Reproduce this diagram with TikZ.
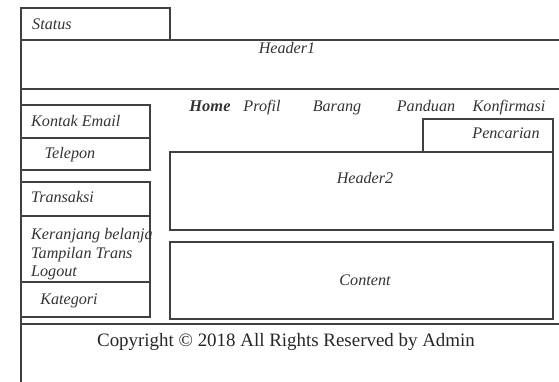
\documentclass[tikz,border=0pt]{standalone}
\usepackage{fontspec}
\setmainfont{Liberation Serif}
\begin{document}
\begin{tikzpicture}[x=1bp,y=-1bp,
  box/.style={draw=black!75,line width=1.4bp,anchor=north west,inner sep=0pt,outer sep=0pt},
  lbl/.style={font=\fontsize{16.2}{18}\selectfont\itshape,text=black!80,inner sep=0pt,text height=11bp,text depth=3.5bp,yshift=-2bp},
  nav/.style={lbl},
  copy/.style={font=\fontsize{19}{22}\selectfont,text=black!85,inner sep=0pt,yshift=-2bp}]
\useasboundingbox (0,0) rectangle (559,381);
% frame
\node[box,minimum width=549bp,minimum height=49bp] (hdr1band) at (21,40) {};
\node[box,minimum width=549bp,minimum height=235bp] (body) at (21,89) {};
\node[box,minimum width=549bp,minimum height=70bp] (foot) at (21,324) {};
\node[box,minimum width=149bp,minimum height=32bp] (status) at (21,8) {};
% sidebar
\node[box,minimum width=129bp,minimum height=33bp] (kontak) at (21,105) {};
\node[box,minimum width=129bp,minimum height=32bp] (telepon) at (21,138) {};
\node[box,minimum width=129bp,minimum height=34bp] (transaksi) at (21,182) {};
\node[box,minimum width=129bp,minimum height=66bp] (keranjang) at (21,216) {};
\node[box,minimum width=129bp,minimum height=35bp] (kategori) at (21,282) {};
% main
\node[box,minimum width=130bp,minimum height=33bp] (pencarian) at (423,119) {};
\node[box,minimum width=383bp,minimum height=78bp] (header2) at (170,152) {};
\node[box,minimum width=383bp,minimum height=77bp] (content) at (170,242) {};
% texts
\node[lbl,anchor=west] (tstatus) at (32,24) {Status};
\node[lbl] (theader1) at (287,48) {Header1};
\node[lbl,anchor=west] (tkontak) at (31,121) {Kontak Email};
\node[lbl] (ttelepon) at (70,153) {Telepon};
\node[lbl,anchor=west] (ttransaksi) at (31,197) {Transaksi};
\node[lbl,anchor=west] (tker1) at (31,234) {Keranjang belanja};
\node[lbl,anchor=west] (tker2) at (31,253) {Tampilan Trans};
\node[lbl,anchor=west] (tker3) at (31,271) {Logout};
\node[lbl] (tkategori) at (69,299) {Kategori};
\node[nav,font=\fontsize{16.5}{18}\selectfont\bfseries\itshape] (thome) at (210,106) {Home};
\node[nav] (tprofil) at (262,106) {Profil};
\node[nav] (tbarang) at (337,106) {Barang};
\node[nav] (tpanduan) at (426,106) {Panduan};
\node[nav] (tkonf) at (509,106) {Konfirmasi};
\node[lbl] (tpencarian) at (506,133) {Pencarian};
\node[lbl] (theader2) at (365,178) {Header2};
\node[lbl] (tcontent) at (365,280) {Content};
\node[copy] (tcopy) at (286,340) {Copyright © 2018 All Rights Reserved by Admin};
\end{tikzpicture}
\end{document}
